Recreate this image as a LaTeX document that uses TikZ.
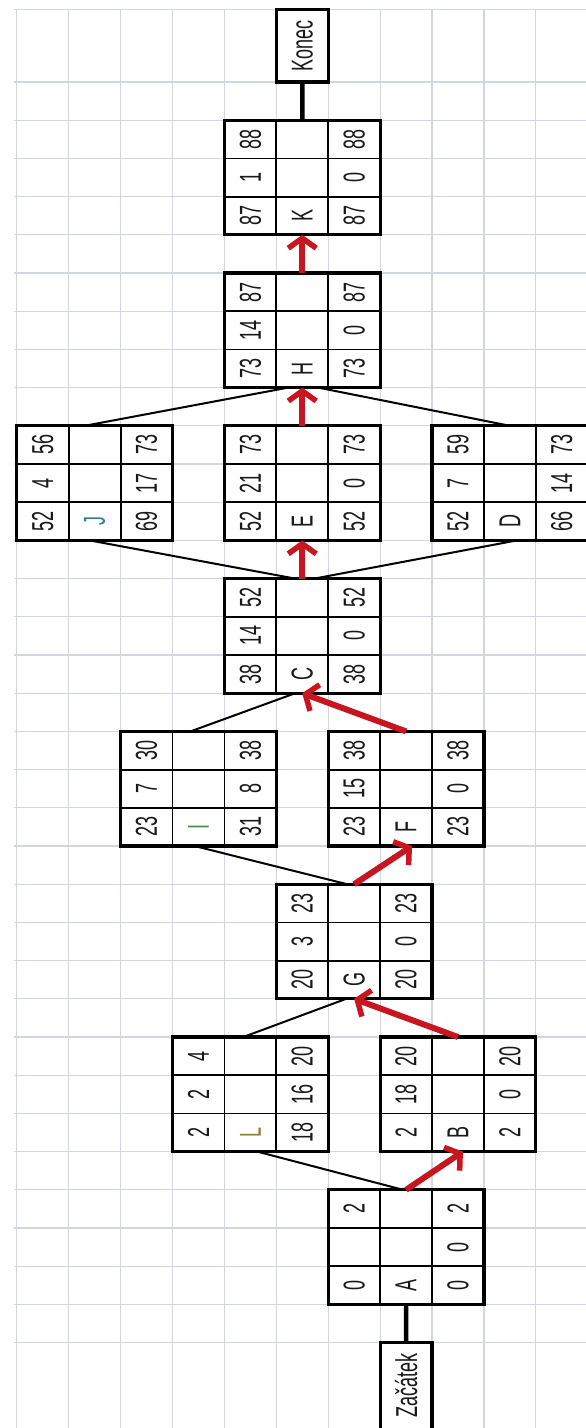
\documentclass[tikz,border=0pt]{standalone}
\usepackage{fontspec}
\setmainfont{Liberation Sans}
\usepackage{graphicx}
\usetikzlibrary{arrows.meta,calc}
\definecolor{gridc}{RGB}{210,214,222}
\definecolor{arrred}{RGB}{200,22,32}
\definecolor{txt}{RGB}{25,25,25}
\definecolor{lgreen}{RGB}{70,140,70}
\definecolor{lteal}{RGB}{50,130,140}
\definecolor{lolive}{RGB}{140,125,50}
\newcommand\vstr[1]{\scalebox{1}[1.68]{#1}}
\tikzset{
  gridl/.style={draw=gridc, line width=1.2pt},
  cpmbox/.style={draw=black, fill=white, line width=3.2pt, minimum width=155.7pt,
    minimum height=114.6pt, inner sep=0pt, outer sep=0pt, anchor=north west},
  endbox/.style={draw=black, fill=white, line width=3.2pt, minimum width=51.9pt,
    inner sep=0pt, outer sep=0pt, anchor=north west},
  innerl/.style={line width=1.8pt, black},
  val/.style={rotate=90, inner sep=0pt, font=\fontsize{18}{18}\selectfont, text=txt},
  conn/.style={line width=2pt, black},
  thickconn/.style={line width=4.5pt, black},
  redarrow/.style={draw=arrred, line width=6pt,
    -{Straight Barb[length=10pt, width=28pt, line width=5.5pt]}}
}
\newcommand\cpmbox[9]{%
  \node[cpmbox] (#1) at (#2) {};
  \draw[innerl] ($(#1.north west)+(51.9,0)$) -- ($(#1.south west)+(51.9,0)$);
  \draw[innerl] ($(#1.north west)+(103.8,0)$) -- ($(#1.south west)+(103.8,0)$);
  \draw[innerl] ($(#1.north west)+(0,38.2)$) -- ($(#1.north east)+(0,38.2)$);
  \draw[innerl] ($(#1.north west)+(0,76.4)$) -- ($(#1.north east)+(0,76.4)$);
  \node[val] (#1l1) at ($(#1.north west)+(25.95,19.1)$) {\vstr{#3}};
  \node[val] (#1l2) at ($(#1.north west)+(25.95,57.3)$) {\vstr{#4}};
  \node[val] (#1l3) at ($(#1.north west)+(25.95,95.5)$) {\vstr{#5}};
  \node[val] (#1m3) at ($(#1.north west)+(77.85,95.5)$) {\vstr{#6}};
  \node[val] (#1r1) at ($(#1.north west)+(129.75,19.1)$) {\vstr{#7}};
  \node[val] (#1r2) at ($(#1.north west)+(129.75,57.3)$) {\vstr{#8}};
  \node[val] (#1r3) at ($(#1.north west)+(129.75,95.5)$) {\vstr{#9}};
}
\begin{document}
\begin{tikzpicture}[x=1pt,y=-1pt]
\useasboundingbox (0,0) rectangle (586,1428);
\clip (0,0) rectangle (586,1428);
\fill[white] (0,0) rectangle (586,1428);
% grid
\foreach \k in {0,...,10} \draw[gridl] ({16.8+51.9*\k},9.3) -- ({16.8+51.9*\k},1428);
\draw[gridl] (14,9.3) -- (586,9.3);
\foreach \r in {0,...,33} \draw[gridl] (14,{82+38.2*\r}) -- (586,{82+38.2*\r});
% end boxes
\node[endbox, minimum height=72.7pt] (Konec) at (276.3,9.3) {};
\node[val] (Konect) at (Konec.center) {\vstr{Konec}};
\node[endbox, minimum height=110pt] (Zac) at (380.1,1342.6) {};
\node[val] (Zact) at ($(Zac.north)+(0,42.6)$) {\vstr{Začátek}};
% activity boxes
\cpmbox{K}{224.4,120.2}{88}{1}{87}{K}{88}{0}{87}
\cpmbox{H}{224.4,273.0}{87}{14}{73}{H}{87}{0}{73}
\cpmbox{J}{16.8,425.8}{56}{4}{52}{\textcolor{lteal}{J}}{73}{17}{69}
\cpmbox{E}{224.4,425.8}{73}{21}{52}{E}{73}{0}{52}
\cpmbox{D}{432.0,425.8}{59}{7}{52}{D}{73}{14}{66}
\cpmbox{C}{224.4,578.6}{52}{14}{38}{C}{52}{0}{38}
\cpmbox{I}{120.6,731.4}{30}{7}{23}{\textcolor{lgreen}{I}}{38}{8}{31}
\cpmbox{F}{328.2,731.4}{38}{15}{23}{F}{38}{0}{23}
\cpmbox{G}{276.3,884.2}{23}{3}{20}{G}{23}{0}{20}
\cpmbox{L}{172.5,1037.0}{4}{2}{2}{\textcolor{lolive}{L}}{20}{16}{18}
\cpmbox{B}{380.1,1037.0}{20}{18}{2}{B}{20}{0}{2}
\cpmbox{A}{328.2,1189.8}{2}{}{0}{A}{2}{0}{0}
% thick connectors to start / end
\draw[thickconn] (K.north) -- (Konec.south);
\draw[thickconn] (A.south) -- (Zac.north);
% black connectors
\draw[conn] ($(J.north)+(-10,0)$) -- ($(H.south)+(-14,0)$);
\draw[conn] (D.north) -- ($(H.south)+(16,0)$);
\draw[conn] ($(J.south)+(-5,0)$) -- ($(C.north)+(-7,0)$);
\draw[conn] ($(D.south)+(7,0)$) -- ($(C.north)+(12,0)$);
\draw[conn] ($(I.north)+(-8,0)$) -- ($(C.south)+(-7,0)$);
\draw[conn] ($(I.south)+(-4,0)$) -- ($(G.north)+(-7,0)$);
\draw[conn] ($(L.north)+(-7,0)$) -- ($(G.south)+(-8,0)$);
\draw[conn] ($(L.south)+(7,0)$) -- ($(A.north)+(-3,0)$);
% critical path
\draw[redarrow] (A.north) -- ($(B.south)+(5,0)$);
\draw[redarrow] (B.north) -- (G.south);
\draw[redarrow] (G.north) -- ($(F.south)+(6,0)$);
\draw[redarrow] (F.north) -- (C.south);
\draw[redarrow] (C.north) -- (E.south);
\draw[redarrow] (E.north) -- (H.south);
\draw[redarrow] (H.north) -- (K.south);
\end{tikzpicture}
\end{document}
